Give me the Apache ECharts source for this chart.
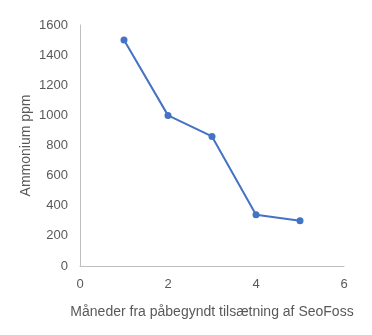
<!DOCTYPE html>
<html><head><meta charset="utf-8">
<script src="https://cdn.jsdelivr.net/npm/echarts@6/dist/echarts.min.js"></script>
<style>html,body{margin:0;padding:0;background:#fff}#c{width:372px;height:335px}</style>
</head><body><div id="c"></div>
<script>
const months = [1, 2, 3, 4, 5];
const ammonium = [1500, 1000, 860, 340, 300];
const xTitle = 'Måneder fra påbegyndt tilsætning af SeoFoss';
const yTitle = 'Ammonium ppm';

const chart = echarts.init(document.getElementById('c'));
const font = 'Liberation Sans, Arial, sans-serif';
chart.setOption({
  animation: false,
  grid: {left: 80, right: 28, top: 25, bottom: 69},
  xAxis: {
    type: 'value', min: 0, max: 6, interval: 2,
    name: xTitle, nameLocation: 'middle', nameGap: 39, nameMoveOverlap: false,
    nameTextStyle: {color: '#595959', fontSize: 14, fontFamily: font},
    axisLine: {show: true, lineStyle: {color: '#bfbfbf', width: 1}},
    axisTick: {show: false},
    splitLine: {show: false},
    axisLabel: {color: '#595959', fontSize: 13, fontFamily: font, margin: 12,
      formatter: v => String(v)}
  },
  yAxis: {
    type: 'value', min: 0, max: 1600, interval: 200,
    name: yTitle, nameLocation: 'middle', nameGap: 47, nameMoveOverlap: false,
    nameTextStyle: {color: '#595959', fontSize: 14, fontFamily: font},
    axisLine: {show: true, lineStyle: {color: '#bfbfbf', width: 1}},
    axisTick: {show: false},
    splitLine: {show: false},
    axisLabel: {color: '#595959', fontSize: 13, fontFamily: font, margin: 12,
      formatter: v => String(v)}
  },
  series: [{
    type: 'line',
    data: months.map((m, i) => [m, ammonium[i]]),
    symbol: 'circle', symbolSize: 7,
    lineStyle: {color: '#4472C4', width: 2},
    itemStyle: {color: '#4472C4'}
  }]
});
</script></body></html>
